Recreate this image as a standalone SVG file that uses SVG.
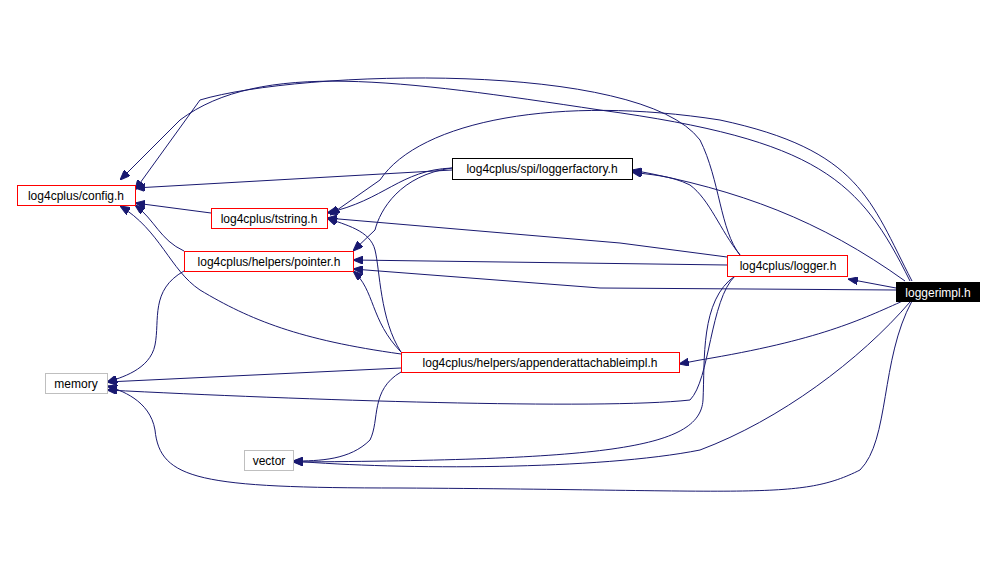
<svg xmlns="http://www.w3.org/2000/svg" width="996" height="580" viewBox="0 0 996 580">
<style>
.e{fill:none;stroke:#191970;stroke-width:1}
.n rect{fill:#fff;stroke:#ff0000;stroke-width:1}
.n.b rect{stroke:#000}
.n.g rect{stroke:#bfbfbf}
.n.s rect{fill:#000;stroke:#000}
text{font-family:"Liberation Sans",Arial,sans-serif;font-size:12px;text-anchor:middle}
.s text{fill:#fff}
</style>
<defs><marker id="a" viewBox="0 0 10 8" refX="10" refY="4" markerWidth="10" markerHeight="8" markerUnits="userSpaceOnUse" orient="auto"><path d="M0,0L10,4L0,8z" fill="#191970" stroke="#191970"/></marker></defs>
<rect width="996" height="580" fill="#fff"/>
<g id="edges">
<path class="e" marker-end="url(#a)" d="M896,288 L848,279"/>
<path class="e" marker-end="url(#a)" d="M896,290 L600,288 L353,269"/>
<path class="e" marker-end="url(#a)" d="M905,300 C860,320 820,340 700,360 L679,364"/>
<path class="e" marker-end="url(#a)" d="M905,281 C820,220 740,190 632,170"/>
<path class="e" marker-end="url(#a)" d="M910,281 C860,180 820,140 600,110 C400,80 260,60 180,120 L120,180"/>
<path class="e" marker-end="url(#a)" d="M912,281 C870,200 860,150 720,120 C560,95 420,120 380,180 L330,215"/>
<path class="e" marker-end="url(#a)" d="M912,301 C880,360 890,440 860,470 C800,500 760,490 400,488 C200,488 160,480 155,430 C150,400 120,390 107,386"/>
<path class="e" marker-end="url(#a)" d="M910,302 C860,360 780,420 700,450 C600,470 400,470 293,461"/>
<path class="e" marker-end="url(#a)" d="M740,255 C720,230 720,180 700,140 C640,60 300,70 200,100 L135,190"/>
<path class="e" marker-end="url(#a)" d="M727,257 L620,243 L327,218"/>
<path class="e" marker-end="url(#a)" d="M727,265 L353,260"/>
<path class="e" marker-end="url(#a)" d="M740,255 C720,230 710,200 690,185 C670,175 650,175 632,172"/>
<path class="e" marker-end="url(#a)" d="M735,276 C700,300 705,360 703,400 C700,450 600,460 293,462"/>
<path class="e" marker-end="url(#a)" d="M735,276 C710,300 710,380 690,400 C600,410 300,400 107,390"/>
<path class="e" marker-end="url(#a)" d="M452,170 L135,188"/>
<path class="e" marker-end="url(#a)" d="M452,168 C400,170 385,200 327,213"/>
<path class="e" marker-end="url(#a)" d="M452,168 C400,175 380,210 375,230 L353,251"/>
<path class="e" marker-end="url(#a)" d="M211,213 L135,203"/>
<path class="e" marker-end="url(#a)" d="M184,251 C160,240 155,220 135,205"/>
<path class="e" marker-end="url(#a)" d="M184,271 C150,290 160,320 155,345 C150,370 120,378 107,382"/>
<path class="e" marker-end="url(#a)" d="M401,352 C370,320 375,290 353,271"/>
<path class="e" marker-end="url(#a)" d="M401,352 C380,320 380,270 375,250 C370,230 345,225 327,218"/>
<path class="e" marker-end="url(#a)" d="M401,354 C300,340 250,320 200,290 C170,270 160,230 120,206"/>
<path class="e" marker-end="url(#a)" d="M401,368 L107,382"/>
<path class="e" marker-end="url(#a)" d="M401,372 C370,390 380,420 370,440 C350,460 320,461 293,461"/>
</g>
<g id="config" class="n"><rect x="17.5" y="185.5" width="118" height="20"/><text x="76" y="200">log4cplus/config.h</text></g>
<g id="tstring" class="n"><rect x="211.5" y="208.5" width="116" height="20"/><text x="269" y="223">log4cplus/tstring.h</text></g>
<g id="pointer" class="n"><rect x="184.5" y="251.5" width="169" height="20"/><text x="269" y="266">log4cplus/helpers/pointer.h</text></g>
<g id="loggerfactory" class="n b"><rect x="452.5" y="158.5" width="180" height="21"/><text x="542" y="173">log4cplus/spi/loggerfactory.h</text></g>
<g id="logger" class="n"><rect x="727.5" y="255.5" width="120" height="21"/><text x="788" y="270">log4cplus/logger.h</text></g>
<g id="loggerimpl" class="n s"><rect x="896.5" y="282.5" width="83" height="19"/><text x="938" y="297">loggerimpl.h</text></g>
<g id="appender" class="n"><rect x="401.5" y="352.5" width="278" height="20"/><text x="540" y="367">log4cplus/helpers/appenderattachableimpl.h</text></g>
<g id="memory" class="n g"><rect x="45.5" y="373.5" width="62" height="20"/><text x="76" y="388">memory</text></g>
<g id="vector" class="n g"><rect x="244.5" y="450.5" width="49" height="20"/><text x="269" y="465">vector</text></g>
</svg>
